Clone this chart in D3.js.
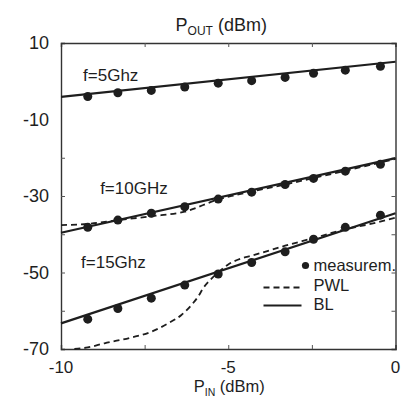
<!DOCTYPE html>
<html>
<head>
<meta charset="utf-8">
<script src="https://cdn.jsdelivr.net/npm/d3@7"></script>
<style>
  html, body { margin: 0; padding: 0; background: #fff; }
  svg { display: block; font-family: "Liberation Sans", Arial, Helvetica, sans-serif; }
</style>
</head>
<body>
<svg id="chart" width="412" height="403"></svg>
<script>
// Input power sweep (dBm) where the output was measured
const pinMeas = [-9.2, -8.3, -7.3, -6.3, -5.3, -4.3, -3.3, -2.45, -1.5, -0.45];

// Measured output power (dBm) per frequency
const meas5  = [-4.0, -3.0, -2.4, -1.5, -0.5, 0.15, 1.0, 2.1, 2.9, 3.9];
const meas10 = [-38.2, -36.3, -34.5, -32.8, -30.8, -29.0, -27.0, -25.4, -23.5, -21.7];
const meas15 = [-62.2, -59.4, -56.7, -53.3, -50.4, -47.4, -44.6, -41.3, -38.2, -35.0];

// BL model: straight lines, end points at P_IN = -10 and 0 dBm
const blPin = [-10, 0];
const bl5   = [-4.1, 5.1];
const bl10  = [-39.6, -20.1];
const bl15  = [-63.3, -34.5];

// PWL model curves
const pwl10Pin = [-10, -9.2, -8.3, -7.3, -6.3, -5.3, -4.8, -4.3, -3.3, -2.45, -1.5, 0];
const pwl10    = [-37.6, -37.3, -36.3, -35.3, -34.1, -30.9, -29.8, -28.8, -27.0, -25.3, -23.4, -20.3];
const pwl15Pin = [-9.6, -9.2, -8.7, -7.9, -7.3, -6.8, -6.4, -6.1, -5.9, -5.75, -5.5, -5.3, -5.0, -4.6, -4.3, -3.3, -2.45, -1.5, -0.8, 0];
const pwl15    = [-70.0, -69.6, -68.5, -67.0, -65.5, -63.3, -61.1, -58.5, -56.3, -54.1, -51.6, -50.0, -47.9, -46.3, -45.6, -43.0, -41.0, -38.7, -37.4, -35.7];

// Axis ticks and labels
const xTicks = [-10, -7.5, -5, -2.5, 0];
const xTickLabels = [-10, -5, 0];
const yTicks = [10, 0, -10, -20, -30, -40, -50, -60, -70];
const yTickLabels = [10, -10, -30, -50, -70];

// Curve annotations (anchored in data coordinates)
const curveNames = ["f=5Ghz", "f=10GHz", "f=15Ghz"];
const namePin = [-9.34, -8.83, -9.4];
const namePout = [0.0, -29.6, -48.8];

const legendNames = ["measurem.", "PWL", "BL"];

const W = 412, H = 403;
const margin = { top: 43, right: 16.5, bottom: 54, left: 61 };
const iw = W - margin.left - margin.right;
const ih = H - margin.top - margin.bottom;
const ink = "#1e1e1e";

const svg = d3.select("#chart");
const g = svg.append("g").attr("transform", `translate(${margin.left},${margin.top})`);

const x = d3.scaleLinear().domain([-10, 0]).range([0, iw]);
const y = d3.scaleLinear().domain([-70, 10]).range([ih, 0]);

// Frame with inward ticks on all four sides
const tickLen = 4;
const fmt = d => d3.format("d")(d).replace("−", "-");

const axL = g.append("g").call(d3.axisLeft(y).tickValues(yTicks).tickSize(-tickLen).tickFormat(""));
const axR = g.append("g").attr("transform", `translate(${iw},0)`)
  .call(d3.axisRight(y).tickValues(yTicks).tickSize(-tickLen).tickFormat(""));
const axB = g.append("g").attr("transform", `translate(0,${ih})`)
  .call(d3.axisBottom(x).tickValues(xTicks).tickSize(-tickLen).tickFormat(""));
const axT = g.append("g").call(d3.axisTop(x).tickValues(xTicks).tickSize(-tickLen).tickFormat(""));
[axL, axR, axB, axT].forEach(a => {
  a.select(".domain").attr("stroke", "#333").attr("stroke-width", 1.4);
  a.selectAll(".tick line").attr("stroke", "#555").attr("stroke-width", 1);
  a.selectAll(".tick").filter(d => d === -10 || d === 0 || d === 10 || d === -70)
    .select("line").attr("stroke-opacity", 0);
});

// Tick labels
g.append("g").selectAll("text").data(yTickLabels).join("text")
  .attr("x", -12).attr("y", d => y(d)).attr("dy", "0.36em")
  .attr("text-anchor", "end").attr("font-size", 18).attr("fill", ink)
  .text(fmt);
g.append("g").selectAll("text").data(xTickLabels).join("text")
  .attr("x", d => x(d)).attr("y", ih + 24)
  .attr("text-anchor", "middle").attr("font-size", 17).attr("fill", ink)
  .text(fmt);

// Axis titles with subscripts
function axisTitle(sel, main, sub, rest, subSize) {
  sel.append("tspan").text(main);
  sel.append("tspan").attr("font-size", subSize).attr("dy", 4).text(sub);
  sel.append("tspan").attr("dy", -4).text(rest);
}
g.append("text").attr("x", iw / 2 - 7).attr("y", -12)
  .attr("text-anchor", "middle").attr("font-size", 18).attr("fill", ink)
  .call(axisTitle, "P", "OUT", " (dBm)", 12);
g.append("text").attr("x", iw / 2 + 1).attr("y", ih + 43)
  .attr("text-anchor", "middle").attr("font-size", 16.5).attr("fill", ink)
  .call(axisTitle, "P", "IN", " (dBm)", 10.5);

const line = d3.line().x(d => x(d[0])).y(d => y(d[1]));
const smooth = d3.line().x(d => x(d[0])).y(d => y(d[1])).curve(d3.curveMonotoneX);

const plot = g.append("g");

// PWL curves (dashed)
[[pwl10Pin, pwl10], [pwl15Pin, pwl15]].forEach(([px, py]) => {
  plot.append("path").datum(d3.zip(px, py))
    .attr("d", smooth).attr("fill", "none")
    .attr("stroke", ink).attr("stroke-width", 1.8)
    .attr("stroke-dasharray", "6,4");
});

// BL lines (solid)
[bl5, bl10, bl15].forEach(v => {
  plot.append("path").datum(d3.zip(blPin, v))
    .attr("d", line).attr("fill", "none")
    .attr("stroke", ink).attr("stroke-width", 2.2);
});

// Measurements
[meas5, meas10, meas15].forEach(v => {
  plot.append("g").selectAll("circle").data(d3.zip(pinMeas, v)).join("circle")
    .attr("cx", d => x(d[0])).attr("cy", d => y(d[1])).attr("r", 4.5)
    .attr("fill", ink);
});

// Curve names
g.append("g").selectAll("text").data(curveNames).join("text")
  .attr("x", (d, i) => x(namePin[i])).attr("y", (d, i) => y(namePout[i]))
  .attr("font-size", 17).attr("fill", ink).text(d => d);

// Legend
const lg = g.append("g").attr("transform", `translate(${iw - 95},${y(-50) - 7})`);
lg.append("circle").attr("cx", 5).attr("cy", 0).attr("r", 3.6).attr("fill", ink);
lg.append("line").attr("x1", -37).attr("x2", 1).attr("y1", 22).attr("y2", 22)
  .attr("stroke", ink).attr("stroke-width", 1.8).attr("stroke-dasharray", "6,4");
lg.append("line").attr("x1", -37).attr("x2", 1).attr("y1", 40).attr("y2", 40)
  .attr("stroke", ink).attr("stroke-width", 2);
lg.selectAll("text").data(legendNames).join("text")
  .attr("x", 13).attr("y", (d, i) => i * 20 + (i === 2 ? -1 : 0)).attr("dy", "0.36em")
  .attr("font-size", 16.5).attr("fill", ink).text(d => d);
</script>
</body>
</html>
